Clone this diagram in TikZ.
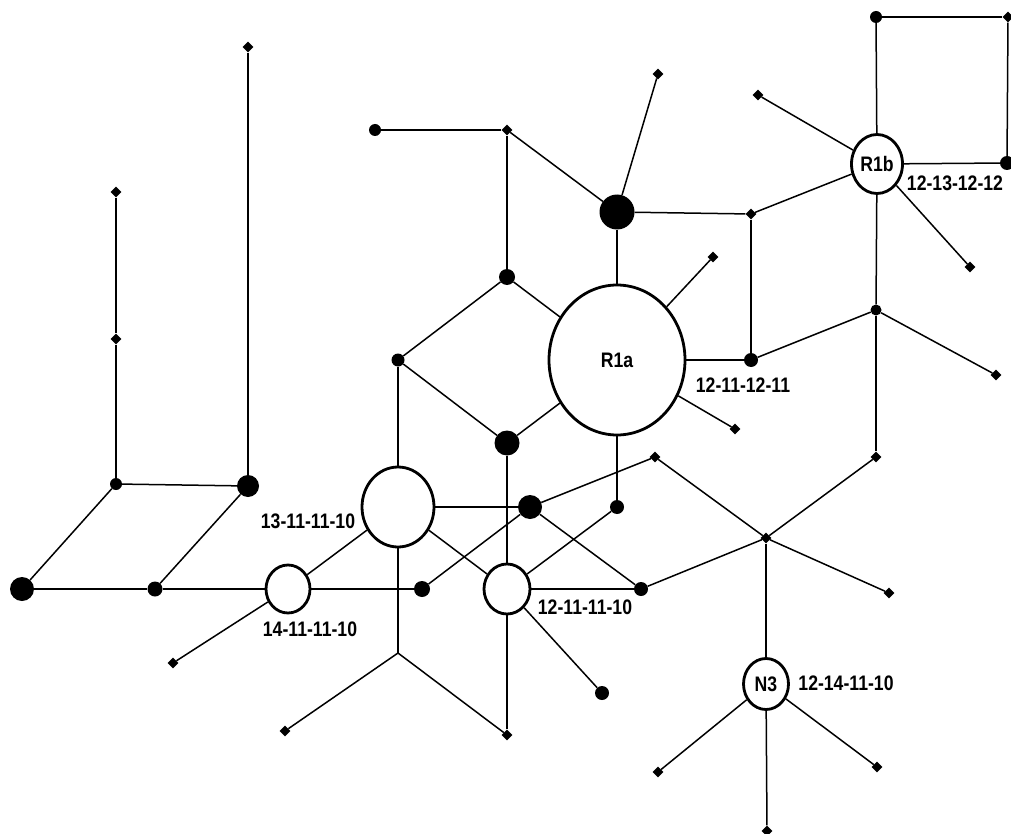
\documentclass[tikz,border=0pt]{standalone}
\usepackage{fontspec}
\newfontfamily\siglafont[FakeStretch=0.84]{Liberation Sans}
\usetikzlibrary{shapes.geometric}
\tikzset{
  nodo/.style={ellipse, draw, line width=2.8pt, fill=white, inner sep=0pt},
  pallino/.style={circle, fill=black, inner sep=0pt, minimum size=#1pt},
  rombo/.style={diamond, fill=black, inner sep=0pt, minimum size=11pt},
  ramo/.style={line width=1.5pt}
}

\begin{document}
\begin{tikzpicture}[x=1pt,y=-1pt,every node/.style={font=\siglafont\bfseries\fontsize{21}{23}\selectfont}]
  \useasboundingbox (0,0) rectangle (1011,834);

  % --- nodi principali: ellissi con sigla -----------------------------------
  \node[nodo, minimum width=136pt, minimum height=150pt] (r1a) at (617,360) {R1a};
  \node[nodo, minimum width=51pt,  minimum height=59pt]  (r1b) at (877,164) {R1b};
  \node[nodo, minimum width=45pt,  minimum height=51pt]  (n3)  at (766,684) {N3};
  \node[nodo, minimum width=72pt,  minimum height=80pt]  (c13) at (398,507) {};
  \node[nodo, minimum width=44pt,  minimum height=48pt]  (c14) at (288,589) {};
  \node[nodo, minimum width=46pt,  minimum height=50pt]  (c12) at (507,589) {};

  % --- pallini pieni: nome/x/y/diametro --------------------------------------
  \foreach \n/\x/\y/\d in {a4/116/484/12, a5/248/486/22, a6/22/589/24,
      a7/155/589/15, b1/398/360/13, g/507/277/16, h/507/443/25, e/530/507/24,
      d/422/589/16, z/617/507/14, y/641/589/14, k/617/212/35, j/375/130/12,
      n/751/360/14, p/876/17/12, s/1007/163/14, t/876/310/11, q12/602/693/14}
    \node[pallino=\d] (\n) at (\x,\y) {};

  % --- rombi piccoli (foglie e incroci) --------------------------------------
  \foreach \n/\x/\y in {a1/248/47, a2/116/192, a3/116/339, i/507/130,
      l/658/74, m/751/214, u/876/457, w/766/538, x/655/457, q/1008/17,
      f1/173/663, f2/285/731, f3/507/735, f4/713/257, f5/735/429,
      f6/758/95, f7/970/267, f8/996/375, f9/889/593, f10/658/772,
      f11/877/767, f12/767/831}
    \node[rombo] (\n) at (\x,\y) {};
  \coordinate (v) at (398,653);

  % --- rami ------------------------------------------------------------------
  \foreach \a/\b in {a1/a5, a2/a3, a3/a4, a4/a5, a4/a6, a5/a7, a6/a7,
      a7/c14, c14/f1, c14/c13, c14/d, c13/b1, c13/e, c13/c12, c13/v,
      v/f2, v/f3, f3/c12, b1/g, b1/h, g/r1a, g/i, i/j, i/k, k/l, k/r1a,
      k/m, m/n, r1a/n, r1a/f4, r1a/f5, m/r1b, r1b/p, p/q, q/s, s/r1b,
      r1b/f6, r1b/f7, r1b/t, t/n, t/f8, t/u, u/w, w/x, w/f9, w/y, w/n3,
      x/e, e/d, e/y, c12/y, c12/z, z/r1a, h/r1a, h/c12, c12/q12,
      n3/f10, n3/f11, n3/f12}
    \draw[ramo] (\a) -- (\b);

  % sigle dei profili accanto ai nodi
  \node (sr1a) at (743,385) {12-11-12-11};
  \node (sr1b) at (955,183) {12-13-12-12};
  \node (sc13) at (308,521) {13-11-11-10};
  \node (sc14) at (310,629) {14-11-11-10};
  \node (sc12) at (585,607) {12-11-11-10};
  \node (sn3)  at (846,683) {12-14-11-10};

\end{tikzpicture}
\end{document}
